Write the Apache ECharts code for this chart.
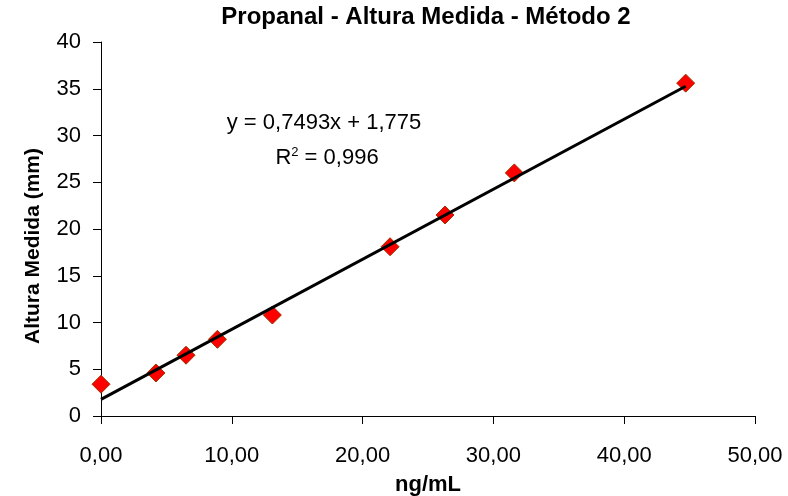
<!DOCTYPE html>
<html>
<head>
<meta charset="utf-8">
<script src="https://cdn.jsdelivr.net/npm/echarts@6/dist/echarts.min.js"></script>
<style>
html,body{margin:0;padding:0;background:#fff;}
#chart{width:788px;height:496px;}
</style>
</head>
<body>
<div id="chart"></div>
<script>
// Data
var xValues = [0.0, 4.2, 6.5, 8.9, 13.1, 22.1, 26.3, 31.6, 44.7];
var yValues = [3.4, 4.6, 6.5, 8.2, 10.8, 18.1, 21.5, 26.0, 35.6];
var trendSlope = 0.7493;
var trendIntercept = 1.775;
var r2Text = '0,996';
var titleText = 'Propanal - Altura Medida - Método 2';
var xName = 'ng/mL';
var yName = 'Altura Medida (mm)';

var points = xValues.map(function (x, i) { return [x, yValues[i]]; });
var xMin = Math.min.apply(null, xValues), xMax = Math.max.apply(null, xValues);
var trendLine = [xMin, xMax].map(function (x) { return [x, trendSlope * x + trendIntercept]; });

function comma(v, d) { return v.toFixed(d).replace('.', ','); }

var chart = echarts.init(document.getElementById('chart'), null, {renderer: 'canvas'});
var font = 'Liberation Sans, Arial, sans-serif';
chart.setOption({
  animation: false,
  backgroundColor: '#fff',
  title: {
    text: titleText, left: 421, top: 0, textAlign: 'center',
    textStyle: {fontFamily: font, fontSize: 24, fontWeight: 'bold', color: '#000'}
  },
  grid: {left: 101, right: 33, top: 42, bottom: 80, containLabel: false, outerBoundsMode: 'none'},
  xAxis: {
    type: 'value', min: 0, max: 50, interval: 10,
    name: xName, nameLocation: 'middle', nameGap: 58,
    nameTextStyle: {fontFamily: font, fontSize: 22, fontWeight: 'bold', color: '#000'},
    axisLine: {onZero: false, lineStyle: {color: '#000', width: 1}},
    axisTick: {show: true, inside: false, length: 8, lineStyle: {color: '#000'}},
    axisLabel: {fontFamily: font, fontSize: 22, color: '#000', margin: 29,
      formatter: function (v) { return comma(v, 2); }},
    splitLine: {show: false}
  },
  yAxis: {
    type: 'value', min: 0, max: 40, interval: 5,
    name: yName, nameLocation: 'middle', nameGap: 57, nameRotate: 90,
    nameTextStyle: {fontFamily: font, fontSize: 21, fontWeight: 'bold', color: '#000',
      padding: [0, 34, 0, 0]},
    axisLine: {show: true, onZero: false, lineStyle: {color: '#000', width: 1}},
    axisTick: {show: true, inside: false, length: 8, lineStyle: {color: '#000'}},
    axisLabel: {fontFamily: font, fontSize: 22, color: '#000', margin: 20},
    splitLine: {show: false}
  },
  series: [
    {
      type: 'line', data: trendLine, symbol: 'none', z: 3,
      lineStyle: {color: '#000', width: 3}
    },
    {
      type: 'scatter', data: points, symbol: 'diamond', symbolSize: 18, z: 2,
      itemStyle: {color: '#ff0000', opacity: 1, borderColor: '#993300', borderWidth: 1}
    }
  ],
  graphic: [
    {
      type: 'text',
      style: {
        x: 324, y: 123, text: 'y = ' + comma(trendSlope, 4) + 'x + ' + comma(trendIntercept, 3),
        fontFamily: font, fontSize: 22, fill: '#000', align: 'center', verticalAlign: 'middle'
      }
    },
    {
      type: 'text',
      style: {
        x: 327, y: 158,
        text: '{r|R}{s|2}{r| = ' + r2Text + '}',
        rich: {
          r: {fontFamily: font, fontSize: 22, color: '#000'},
          s: {fontFamily: font, fontSize: 13, color: '#000', verticalAlign: 'top', padding: [0, 0, 12, 0]}
        },
        align: 'center', verticalAlign: 'middle'
      }
    }
  ]
});
</script>
</body>
</html>
